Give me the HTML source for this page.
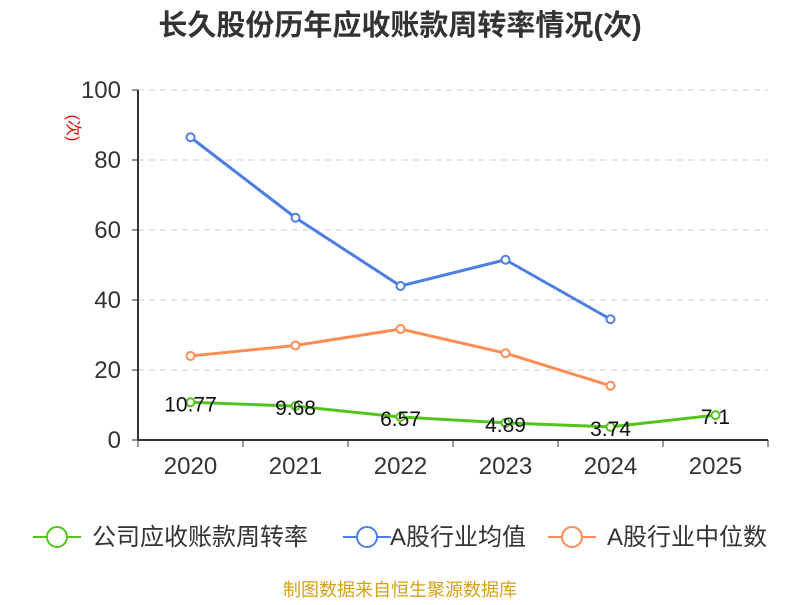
<!DOCTYPE html>
<html><head><meta charset="utf-8"><style>
body{margin:0;background:#fff;font-family:"Liberation Sans","Noto Sans CJK SC",sans-serif;}
</style></head><body>
<svg width="800" height="600" xmlns="http://www.w3.org/2000/svg" style="font-family:'Liberation Sans','Noto Sans CJK SC',sans-serif">
<text x="400" y="35" text-anchor="middle" font-size="29" font-weight="bold" fill="#333">长久股份历年应收账款周转率情况(次)</text>
<text transform="translate(68,128) rotate(90)" text-anchor="middle" font-size="16" fill="#e00">(次)</text>
<g id="grid"></g><g id="axes"></g><g id="series"></g>
<g font-size="24" fill="#333">
<g><line x1="33" y1="537" x2="81" y2="537" stroke="#52c41a" stroke-width="2"/><circle cx="57" cy="537" r="10" fill="#fff" stroke="#52c41a" stroke-width="2"/><text x="92" y="545">公司应收账款周转率</text></g>
<g><line x1="343" y1="537" x2="391" y2="537" stroke="#4e7fe0" stroke-width="2"/><circle cx="367" cy="537" r="10" fill="#fff" stroke="#4e7fe0" stroke-width="2"/><text x="390" y="545">A股行业均值</text></g>
<g><line x1="548" y1="537" x2="596" y2="537" stroke="#ff8c55" stroke-width="2"/><circle cx="572" cy="537" r="10" fill="#fff" stroke="#ff8c55" stroke-width="2"/><text x="607" y="545">A股行业中位数</text></g>
</g>
<text x="400" y="596" text-anchor="middle" font-size="18" fill="#d4a017">制图数据来自恒生聚源数据库</text>
</svg>
<script>
const categories=["2020","2021","2022","2023","2024","2025"];
const companyVals=[10.77,9.68,6.57,4.89,3.74,7.1];
const meanVals=[86.5,63.5,44,51.5,34.5];
const medianVals=[24,27,31.7,24.8,15.5];
const yTicks=[0,20,40,60,80,100];
const NS="http://www.w3.org/2000/svg";
const x0=138,x1=768,y0=440,y1=90;
const bw=(x1-x0)/categories.length;
const xs=i=>x0+bw*(i+0.5);
const ys=v=>y0-(v/100)*(y0-y1);
function mk(t,a,p){const e=document.createElementNS(NS,t);for(const k in a)e.setAttribute(k,a[k]);p.appendChild(e);return e;}
const grid=document.getElementById('grid'),axes=document.getElementById('axes'),ser=document.getElementById('series');
yTicks.forEach(v=>{
 if(v>0){const l=mk('line',{x1:x0,x2:x1,y1:ys(v),y2:ys(v),stroke:'#ccc','stroke-dasharray':'6,5'},grid);
 
 }
 const tk=mk('line',{x1:x0-6,x2:x0,y1:ys(v),y2:ys(v),stroke:'#333'},axes);
 
 
 const t=mk('text',{x:x0-17,y:ys(v)+8,'text-anchor':'end','font-size':'24',fill:'#333'},axes);t.textContent=v;
 
 
});
const ya=mk('line',{x1:x0,x2:x0,y1:y1,y2:y0,stroke:'#333','stroke-width':2},axes);


const xa=mk('line',{x1:x0,x2:x1,y1:y0,y2:y0,stroke:'#333','stroke-width':2},axes);


for(let i=0;i<=categories.length;i++){const tk=mk('line',{x1:x0+bw*i,x2:x0+bw*i,y1:y0,y2:y0+7,stroke:'#333'},axes);
 
 }
categories.forEach((c,i)=>{const t=mk('text',{x:xs(i),y:y0+34,'text-anchor':'middle','font-size':'24',fill:'#333'},axes);t.textContent=c;
 
 });
function series(vals,color,name,labels){
 const g=mk('g',{},ser);
 
 
 const p=mk('polyline',{points:vals.map((v,i)=>xs(i)+','+ys(v)).join(' '),fill:'none',stroke:color,'stroke-width':3},g);
 
 
 vals.forEach((v,i)=>{const c=mk('circle',{cx:xs(i),cy:ys(v),r:4,fill:'#fff',stroke:color,'stroke-width':2},g);
  
  
  if(labels){const t=mk('text',{x:xs(i),y:ys(v)+9,'text-anchor':'middle','font-size':'21',fill:'#111'},g);t.textContent=v;
  
  }});
}
series(meanVals,'#4e7fe0','industry-mean-series',false);
series(medianVals,'#ff8c55','industry-median-series',false);
series(companyVals,'#52c41a','company-series',true);
</script>
</body></html>
